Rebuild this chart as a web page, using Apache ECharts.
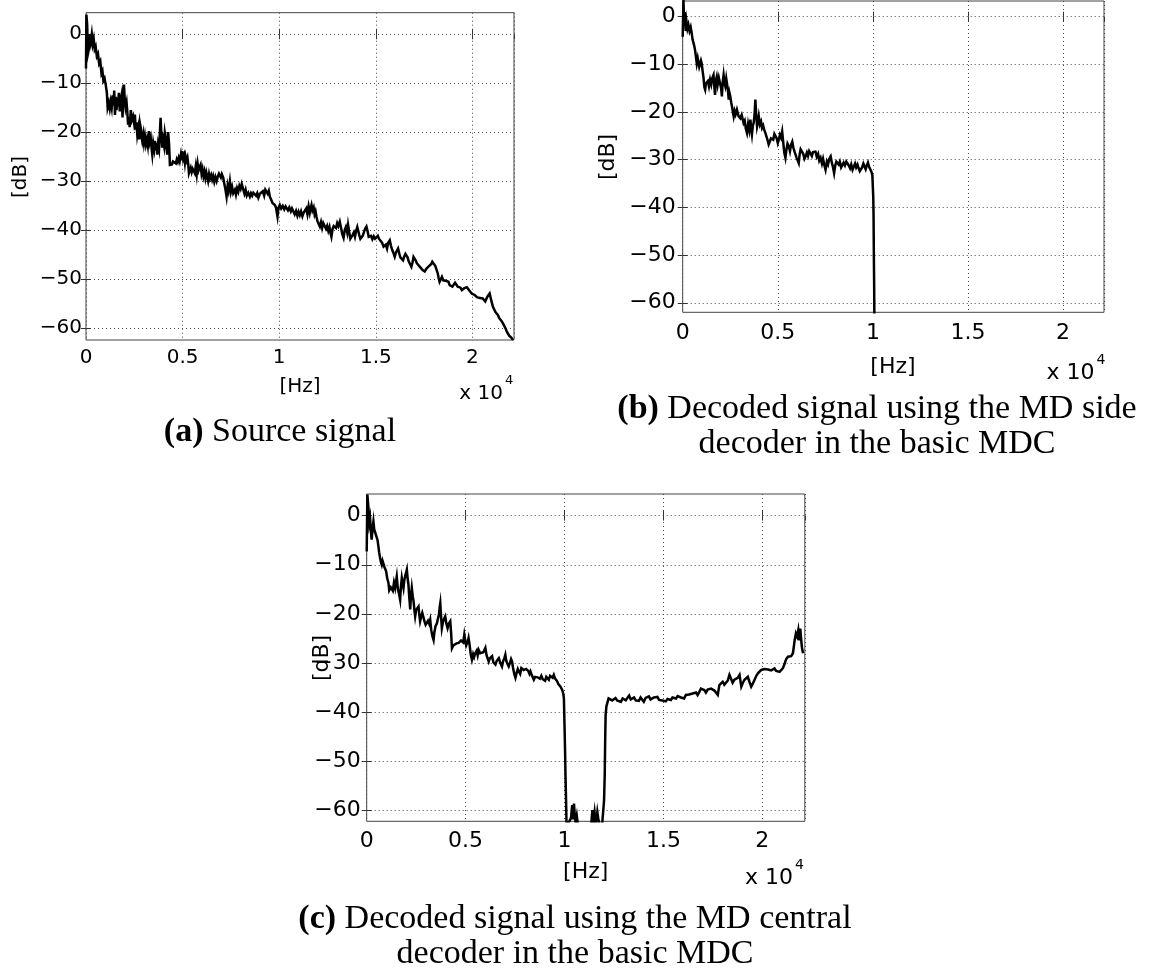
<!DOCTYPE html>
<html><head><meta charset="utf-8">
<script src="https://cdn.jsdelivr.net/npm/echarts@6/dist/echarts.min.js"></script>
<style>html,body{margin:0;padding:0;background:#fff}#c{width:1150px;height:972px}</style>
</head><body><div id="c"></div>
<script>
// ---- data (frequency in Hz, level in dB) ----
const xTicks = [0, 5000, 10000, 15000, 20000];
const xTickLabels = ['0', '0.5', '1', '1.5', '2'];
const yTicks = [-60, -50, -40, -30, -20, -10, 0];
const yTickLabels = ['\u221260', '\u221250', '\u221240', '\u221230', '\u221220', '\u221210', '0'];

const sourceSignal = [[0,-7],[20,4],[60,2],[100,-4],[150,-3],[200,0],[250,-1.5],[300,0],[350,-2],[400,-1],[450,-3],[500,-2.5],[560,-4.5],[620,-4],[680,-6],[740,-5.5],[800,-8],[850,-7.5],[900,-9.5],[960,-9],[1020,-10.3],[1080,-12],[1120,-15],[1180,-14],[1230,-15.2],[1280,-13.8],[1330,-15],[1380,-12.5],[1420,-14.5],[1460,-11.5],[1500,-16.5],[1540,-12.8],[1580,-15.5],[1620,-13],[1660,-14.8],[1700,-12],[1750,-15.8],[1790,-13.6],[1840,-12.5],[1890,-17],[1930,-13],[1964,-10.3],[2000,-13],[2050,-15],[2100,-14],[2140,-16],[2180,-18.5],[2223,-17],[2260,-19],[2320,-15.5],[2380,-17.5],[2440,-16.8],[2482,-18],[2530,-16.4],[2570,-19.5],[2610,-18],[2654,-20.5],[2700,-19.3],[2750,-21.5],[2790,-18.2],[2827,-19],[2870,-20.8],[2910,-21.8],[2960,-20.5],[3000,-22.2],[3050,-20.8],[3100,-22.5],[3150,-21.5],[3200,-22.8],[3257,-19.8],[3300,-22],[3350,-21.2],[3400,-23.6],[3430,-24.6],[3480,-22.3],[3530,-23.5],[3570,-21.8],[3620,-23.8],[3660,-22.2],[3686,-24.6],[3730,-22.5],[3780,-23.5],[3830,-19.5],[3860,-17.1],[3900,-20.5],[3946,-23.2],[3990,-21.6],[4040,-22.8],[4080,-20.2],[4120,-21.2],[4160,-23.2],[4205,-24.6],[4250,-20],[4300,-22.5],[4343,-26.7],[4400,-26.3],[4450,-26.6],[4500,-26],[4550,-26.3],[4600,-25.8],[4650,-26.4],[4700,-25.6],[4750,-26.1],[4800,-25.3],[4850,-26],[4910,-24.6],[4950,-25.8],[4980,-23.9],[5030,-25.5],[5080,-24.8],[5120,-26.2],[5155,-25],[5200,-25.8],[5250,-25.2],[5290,-26.5],[5327,-28.4],[5370,-28],[5420,-27.3],[5470,-28.2],[5520,-27.5],[5585,-27.3],[5630,-28.4],[5680,-27],[5730,-28.6],[5780,-26.5],[5830,-27.8],[5880,-27.2],[5930,-26.7],[5980,-28.5],[6030,-27.6],[6080,-29],[6130,-28.1],[6180,-29.4],[6230,-28.3],[6270,-28.7],[6320,-30],[6370,-28.6],[6420,-29.5],[6480,-28.8],[6530,-29.7],[6580,-29],[6640,-30.2],[6700,-29.2],[6760,-30],[6820,-29.1],[6880,-28.5],[6929,-28.1],[6980,-29.3],[7030,-28.6],[7100,-29.3],[7160,-30.6],[7220,-31.8],[7275,-33.2],[7330,-31],[7380,-32],[7446,-30.1],[7500,-32.2],[7560,-31.2],[7620,-32.5],[7704,-31.8],[7760,-32.8],[7820,-31.5],[7880,-32.2],[7940,-31],[8000,-31.6],[8060,-30.6],[8133,-30.8],[8200,-32.6],[8260,-31.8],[8320,-33],[8400,-32.4],[8480,-33.2],[8540,-32.5],[8600,-33],[8660,-32.4],[8738,-32.2],[8800,-33],[8860,-32.5],[8920,-33.4],[9000,-32.6],[9085,-32.9],[9150,-32.1],[9220,-33],[9280,-31.8],[9340,-31.6],[9400,-32.6],[9460,-32],[9514,-33.2],[9580,-33.8],[9650,-34.5],[9720,-34.2],[9773,-34.9],[9830,-35.4],[9910,-37.3],[9960,-35.5],[10030,-34.9],[10100,-35.6],[10180,-35.1],[10260,-35.8],[10330,-35.2],[10380,-35.3],[10450,-36],[10520,-35.4],[10600,-36.2],[10660,-35.6],[10720,-35.9],[10800,-36.8],[10870,-36.1],[10940,-37.1],[11000,-36.3],[11065,-37],[11130,-36.2],[11200,-37.2],[11260,-36.5],[11323,-36.4],[11400,-35.6],[11460,-36.8],[11520,-35.2],[11580,-36.5],[11620,-35.7],[11670,-34.9],[11720,-36],[11780,-35.4],[11830,-36.8],[11880,-36.2],[11928,-37.3],[11980,-38.2],[12040,-38.8],[12100,-39.3],[12160,-38.4],[12220,-39.6],[12280,-38.6],[12358,-38.3],[12420,-39.8],[12480,-39.2],[12540,-40.2],[12600,-39.4],[12650,-40.6],[12700,-41.4],[12760,-39.8],[12820,-39.2],[12880,-38.8],[12940,-39.6],[13000,-38.6],[13060,-39.2],[13133,-38.3],[13200,-39.6],[13260,-40.8],[13330,-41.6],[13392,-40],[13450,-39.4],[13520,-40.6],[13564,-39],[13620,-40.4],[13680,-41.8],[13738,-42.1],[13800,-41],[13860,-40.5],[13920,-41.4],[13980,-40.2],[14040,-39.4],[14083,-39.7],[14140,-41],[14200,-41.8],[14255,-42.1],[14320,-41.2],[14380,-40.8],[14440,-39.8],[14514,-39.3],[14570,-40.2],[14630,-41.4],[14685,-41.7],[14750,-41.2],[14820,-41.9],[14890,-41.3],[14960,-41.8],[15030,-41.7],[15100,-41.2],[15160,-41.8],[15202,-41.4],[15260,-42],[15320,-42.6],[15400,-43.4],[15460,-43.8],[15520,-43],[15580,-43.8],[15640,-42.6],[15720,-42.1],[15780,-43.2],[15840,-44],[15900,-44.6],[15977,-45.5],[16040,-44.6],[16100,-44.2],[16150,-43.8],[16210,-44.8],[16270,-45.6],[16340,-45.2],[16408,-46.2],[16470,-45.4],[16530,-44.9],[16580,-44.8],[16640,-45.6],[16700,-46.4],[16770,-46.2],[16840,-47.5],[16900,-46.6],[16950,-45.5],[17010,-45.1],[17060,-46.2],[17120,-46.8],[17200,-47],[17270,-47.5],[17340,-47.8],[17420,-48.2],[17480,-48.5],[17530,-48.5],[17600,-48],[17660,-48.3],[17720,-47.5],[17785,-47.5],[17860,-47],[17920,-46.5],[17960,-46.2],[18020,-46.9],[18080,-47.4],[18130,-47.8],[18200,-48.8],[18250,-49.8],[18300,-50.6],[18360,-50.2],[18420,-49.6],[18490,-50.3],[18560,-49.9],[18620,-50.4],[18690,-50.8],[18760,-50.6],[18820,-51.3],[18890,-50.9],[18960,-51.6],[19030,-51.2],[19100,-50.8],[19170,-51],[19240,-51.6],[19310,-51.9],[19380,-51.8],[19450,-52.3],[19510,-52.3],[19580,-51.9],[19650,-51.5],[19710,-51.7],[19770,-51.6],[19840,-52.4],[19900,-52.8],[19960,-53],[20030,-53.4],[20113,-53.3],[20180,-53.6],[20250,-53.8],[20320,-53.4],[20400,-53.9],[20460,-53.7],[20530,-54],[20600,-54.2],[20660,-54.6],[20720,-54.3],[20780,-53.6],[20840,-53.3],[20890,-53],[20950,-54],[21000,-54.8],[21060,-55.7],[21120,-56.2],[21190,-56.8],[21260,-57],[21320,-57.4],[21380,-58],[21440,-58.3],[21500,-58.6],[21580,-59.1],[21650,-59.5],[21720,-60.2],[21780,-60.8],[21840,-61.2],[21900,-61.6],[21960,-61.4],[22010,-62],[22100,-62.5]];

const sideDecoder = [[0,-4.2],[40,3.5],[80,-2],[120,1],[160,-3],[200,-1],[250,-2.5],[300,-1.7],[360,-3],[420,-2.2],[475,-3.5],[520,-4.8],[560,-4.5],[600,-6],[650,-7],[700,-8.5],[740,-9.8],[790,-8.7],[830,-8.5],[870,-10.5],[915,-10.5],[960,-9.2],[1000,-9.8],[1050,-11.5],[1090,-12.6],[1140,-14.8],[1180,-15.3],[1220,-14],[1265,-14.3],[1320,-13.5],[1380,-14.6],[1440,-13.2],[1500,-14.2],[1560,-12.8],[1620,-12.2],[1660,-14.5],[1700,-16.4],[1740,-13.5],[1790,-12.6],[1840,-14.2],[1900,-12.8],[1970,-13.2],[2020,-15],[2060,-16.7],[2100,-13.8],[2150,-12.2],[2200,-14],[2240,-14.6],[2290,-13],[2330,-12.6],[2380,-15.5],[2420,-17.4],[2460,-16],[2500,-16.7],[2550,-18],[2590,-18.8],[2640,-20],[2680,-20.9],[2730,-19.8],[2780,-20.5],[2850,-19.5],[2930,-20.8],[3030,-21.3],[3100,-20.6],[3200,-22.3],[3260,-21.8],[3320,-23.5],[3380,-24.4],[3440,-22.5],[3500,-23.8],[3560,-21.6],[3600,-23.5],[3640,-24.7],[3690,-22.8],[3730,-22.3],[3780,-20.5],[3820,-17.4],[3860,-20.2],[3910,-23],[3960,-22],[4000,-20.9],[4060,-22.6],[4120,-22],[4170,-23.3],[4230,-22.8],[4290,-23.8],[4350,-24.4],[4410,-25.2],[4470,-26],[4520,-26.8],[4580,-26.2],[4640,-25.5],[4700,-25.1],[4760,-25.8],[4820,-24.6],[4880,-24.4],[4940,-25.5],[5000,-26.5],[5050,-25.8],[5110,-24.8],[5170,-25.4],[5230,-24.1],[5290,-26.5],[5340,-28.5],[5400,-29.6],[5450,-28],[5510,-26.6],[5580,-27.2],[5640,-28.2],[5700,-26.8],[5760,-26.2],[5820,-27.5],[5880,-28.3],[5930,-28.6],[5990,-29.6],[6050,-30],[6100,-30.7],[6150,-28.8],[6200,-27.8],[6280,-27.5],[6340,-28.8],[6400,-29.8],[6460,-29.3],[6530,-28.5],[6590,-29.2],[6650,-28.2],[6720,-28.6],[6790,-29.2],[6850,-28.4],[6920,-28.8],[6980,-28.3],[7050,-29.4],[7120,-28.8],[7180,-30.2],[7250,-29.6],[7320,-30.8],[7380,-29.8],[7450,-31.2],[7510,-32.1],[7580,-30.4],[7640,-31],[7710,-29.8],[7780,-29.3],[7840,-30.6],[7900,-31.5],[7960,-32.8],[8020,-31.2],[8080,-30.4],[8130,-30],[8200,-31],[8260,-30.4],[8330,-31.6],[8400,-31.4],[8460,-30.6],[8530,-31.2],[8600,-30.4],[8660,-30],[8730,-31.2],[8800,-31.8],[8860,-31],[8930,-32.1],[9000,-31.4],[9060,-30.8],[9120,-31.6],[9190,-31],[9250,-31.8],[9310,-32.4],[9370,-32.5],[9430,-31.6],[9500,-30.8],[9560,-31.4],[9620,-32],[9680,-31.2],[9740,-30.6],[9800,-31.5],[9860,-31.8],[9920,-32.5],[9970,-33.2],[10000,-33.5],[10020,-38],[10035,-42],[10050,-50],[10065,-56],[10080,-64]];

const centralDecoder = [[0,-7.3],[34,4.3],[90,1.5],[130,-1.5],[170,-0.5],[210,-3],[250,-4.9],[300,-2.5],[340,-1.2],[380,-2.8],[420,-3.2],[470,-2.8],[510,-4.5],[550,-5],[590,-6.2],[630,-7.5],[676,-8.6],[720,-9.5],[760,-10],[800,-9.2],[845,-9],[900,-10.5],[940,-10.8],[980,-11.3],[1040,-12.8],[1100,-13.7],[1140,-15.2],[1180,-15.4],[1220,-14.6],[1270,-14.4],[1320,-15.3],[1380,-13.6],[1440,-14.7],[1480,-13.5],[1520,-12.4],[1560,-14.2],[1600,-15.4],[1640,-16],[1690,-17.1],[1730,-14.5],[1775,-12.7],[1820,-13.8],[1860,-14.7],[1900,-13.2],[1950,-12.2],[2000,-11.5],[2030,-11],[2070,-12.8],[2110,-14],[2150,-16.5],[2200,-19.1],[2240,-16.2],[2280,-14.7],[2330,-16.5],[2370,-17.4],[2410,-19.2],[2450,-20.5],[2500,-19.2],[2560,-18.8],[2620,-18.5],[2660,-20.2],[2700,-21.5],[2750,-20.6],[2810,-19.8],[2870,-19.8],[2930,-21.6],[2980,-22.2],[3040,-22.5],[3100,-21.4],[3160,-22],[3210,-21.2],[3260,-23.2],[3320,-24.5],[3380,-25.3],[3420,-23.8],[3480,-22.5],[3550,-21.9],[3600,-21],[3650,-20.2],[3690,-18.6],[3720,-17.8],[3760,-20.5],[3800,-22.9],[3850,-21.8],[3910,-21],[3970,-20.5],[4030,-22],[4090,-22.9],[4150,-22],[4225,-21.5],[4270,-24],[4310,-27],[4380,-26.4],[4430,-26.8],[4480,-26.6],[4540,-26],[4600,-26.3],[4650,-25.9],[4720,-26.2],[4770,-25.4],[4820,-25.3],[4880,-25.8],[4935,-24.2],[4990,-25.6],[5030,-26.4],[5070,-26.3],[5110,-25.6],[5150,-24.9],[5200,-26.2],[5260,-28.2],[5320,-29.3],[5380,-28.2],[5430,-28.8],[5490,-28],[5560,-27.5],[5610,-28.4],[5660,-27.3],[5740,-28],[5790,-27.6],[5830,-28.3],[5900,-27.8],[5950,-27.4],[6000,-26.9],[6060,-28.4],[6110,-28.8],[6170,-29.7],[6230,-29],[6290,-28.8],[6340,-28.6],[6400,-29.8],[6460,-29.4],[6510,-30.3],[6570,-29.6],[6630,-29.2],[6680,-29],[6750,-29.9],[6800,-30.2],[6840,-30.7],[6900,-29.6],[6960,-29],[7010,-28.3],[7060,-29.6],[7120,-30.2],[7180,-30.7],[7240,-30],[7300,-29.2],[7350,-29.7],[7400,-31],[7460,-32.2],[7520,-33],[7580,-32],[7640,-31.2],[7690,-31.7],[7760,-32.2],[7820,-31],[7880,-30.8],[7940,-31.4],[8000,-31.8],[8060,-31.2],[8110,-31],[8170,-31.6],[8230,-32.2],[8280,-31.7],[8340,-32.4],[8400,-32.8],[8450,-33.4],[8520,-32.8],[8580,-32.4],[8640,-32.9],[8700,-32.7],[8760,-33.2],[8830,-32.6],[8900,-33.3],[8960,-33],[9020,-33.6],[9080,-32.8],[9150,-33.1],[9210,-33.4],[9270,-32.6],[9330,-32.2],[9400,-33],[9460,-32.4],[9520,-33.1],[9580,-33.5],[9630,-33.7],[9690,-34.3],[9740,-34.5],[9800,-34.8],[9850,-35.2],[9890,-35.5],[9940,-36.3],[9970,-37.2],[10005,-43.3],[10030,-48],[10050,-52.8],[10080,-58],[10100,-62.3],[10150,-63],[10250,-63],[10330,-61.5],[10390,-58.9],[10430,-61.8],[10480,-58.6],[10520,-61],[10560,-62.3],[10620,-61],[10680,-63],[10800,-63],[11000,-63],[11200,-63],[11350,-63],[11410,-59.9],[11460,-62.3],[11520,-60.4],[11580,-63],[11660,-60.3],[11720,-62],[11780,-63],[11900,-63],[11970,-63],[12000,-58],[12034,-52.8],[12060,-45],[12080,-40.6],[12120,-38.8],[12160,-38.2],[12230,-37.2],[12330,-36.9],[12410,-37.6],[12500,-37.5],[12580,-37.1],[12660,-37.6],[12750,-37.2],[12850,-37.9],[12940,-37.2],[13020,-36.8],[13100,-37.6],[13180,-37.1],[13270,-36.6],[13350,-37.4],[13430,-37.8],[13520,-37],[13600,-37.6],[13680,-37.2],[13760,-37.7],[13850,-37],[13930,-37.4],[14010,-37.9],[14100,-37.1],[14180,-37.5],[14270,-36.8],[14350,-37.4],[14440,-37.6],[14520,-37],[14610,-37.4],[14700,-36.9],[14780,-37.5],[14870,-37.1],[14950,-37.6],[15040,-37.2],[15120,-37.8],[15210,-37.3],[15300,-37.6],[15380,-37.5],[15460,-37],[15550,-37.4],[15640,-37.2],[15720,-36.7],[15800,-37.1],[15890,-37],[15970,-36.8],[16050,-37.2],[16140,-36.5],[16220,-36.9],[16300,-36.4],[16390,-36.8],[16480,-36.2],[16560,-36.6],[16650,-36],[16730,-36.5],[16800,-36],[16900,-35.2],[16980,-35.6],[17070,-35.5],[17150,-36],[17240,-35.4],[17320,-35.8],[17410,-35.2],[17490,-35.5],[17580,-35.6],[17670,-35.9],[17750,-36.5],[17830,-34.5],[17900,-34.2],[18000,-33.8],[18080,-34.4],[18170,-34.8],[18250,-33.6],[18340,-32.4],[18420,-33.2],[18500,-34],[18590,-33.4],[18680,-33.6],[18760,-33],[18850,-32.4],[18940,-34.8],[19020,-34],[19100,-33.4],[19190,-33],[19270,-32.8],[19350,-33.8],[19440,-34.8],[19520,-34.2],[19610,-33.4],[19700,-32.6],[19780,-32.1],[19860,-31.8],[19950,-31.4],[20030,-31.7],[20120,-31.2],[20200,-31.6],[20290,-31.3],[20370,-31.2],[20450,-31.5],[20540,-31.4],[20620,-31.1],[20700,-31.6],[20790,-31.4],[20880,-31.8],[20960,-32.1],[21050,-31],[21130,-30.1],[21210,-29.2],[21300,-28.7],[21380,-29],[21460,-28.6],[21550,-28],[21600,-26.5],[21640,-25.3],[21700,-24],[21760,-24.6],[21820,-23.3],[21870,-25.4],[21920,-23],[21960,-22.6],[22000,-26.7],[22060,-28]];

// ---- layout ----
const XMAX = 22150;
const TICK_FONT = 'DejaVu Sans';
const CAP_FONT = 'Liberation Serif';
const CAP_SIZE = 34;
const panels = [
  { data: sourceSignal, l: 86, t: 12.7, w: 428, h: 327.3, ymin: -62.5, ymax: 4.4, fs: 20, xm: 8, ym: 4,
    db: [21, 177], hz: [300, 386.5], x10: [503, 394], cap: [[280, 432, '{b|(a)} Source signal']] },
  { data: sideDecoder, l: 682.7, t: 1, w: 421.3, h: 311.3, ymin: -62, ymax: 3.3, fs: 22, xm: 10, ym: 7,
    db: [608, 157], hz: [893, 367], x10: [1094.6, 373],
    cap: [[877, 409, '{b|(b)} Decoded signal using the MD side'], [877, 444, 'decoder in the basic MDC']] },
  { data: centralDecoder, l: 366.7, t: 494, w: 438.1, h: 327.3, ymin: -62.2, ymax: 4.4, fs: 22, xm: 9, ym: 6,
    db: [322, 658], hz: [585.7, 872.5], x10: [793, 878],
    cap: [[575, 919, '{b|(c)} Decoded signal using the MD central'], [575, 954, 'decoder in the basic MDC']] }
];

const grids = [], xAxes = [], yAxes = [], series = [], graphics = [];
const tickStyle = { inside: true, length: 5, lineStyle: { color: '#333', width: 1 } };
const gridLine = { show: true, lineStyle: { color: '#4a4a4a', type: [1, 3], width: 1 } };
const xFmt = v => { const k = xTicks.indexOf(v); return k >= 0 ? xTickLabels[k] : ''; };
const yFmt = v => { const k = yTicks.indexOf(v); return k >= 0 ? yTickLabels[k] : ''; };

panels.forEach((p, i) => {
  grids.push({ left: p.l, top: p.t, width: p.w, height: p.h, show: true, borderColor: '#444', borderWidth: 1,
    backgroundColor: 'transparent', containLabel: false, outerBoundsMode: 'none' });
  xAxes.push({ gridIndex: i, type: 'value', position: 'bottom', min: 0, max: XMAX, interval: 5000,
    axisLine: { show: false }, axisTick: tickStyle,
    axisLabel: { margin: p.xm, fontFamily: TICK_FONT, fontSize: p.fs, color: '#000', formatter: xFmt, showMaxLabel: false },
    splitLine: gridLine });
  xAxes.push({ gridIndex: i, type: 'value', position: 'top', min: 0, max: XMAX, interval: 5000,
    axisLine: { show: false }, axisTick: tickStyle, axisLabel: { show: false }, splitLine: { show: false } });
  yAxes.push({ gridIndex: i, type: 'value', position: 'left', min: p.ymin, max: p.ymax,
    axisLine: { show: false }, axisTick: Object.assign({ customValues: yTicks }, tickStyle),
    axisLabel: { customValues: yTicks, margin: p.ym, fontFamily: TICK_FONT, fontSize: p.fs, color: '#000', formatter: yFmt },
    splitLine: gridLine });
  yAxes.push({ gridIndex: i, type: 'value', position: 'right', min: p.ymin, max: p.ymax,
    axisLine: { show: false }, axisTick: Object.assign({ customValues: yTicks }, tickStyle),
    axisLabel: { show: false, customValues: yTicks }, splitLine: { show: false } });
  series.push({ type: 'line', xAxisIndex: 2 * i, yAxisIndex: 2 * i, data: p.data, showSymbol: false, symbol: 'none',
    lineStyle: { color: '#000', width: 2.5, join: 'miter' }, clip: true, animation: false, silent: true });

  graphics.push({ type: 'text', x: p.db[0], y: p.db[1], rotation: Math.PI / 2,
    style: { text: '[dB]', fontFamily: TICK_FONT, fontSize: p.fs, fill: '#000', align: 'center', verticalAlign: 'middle' } });
  graphics.push({ type: 'text', x: p.hz[0], y: p.hz[1],
    style: { text: '[Hz]', fontFamily: TICK_FONT, fontSize: p.fs, fill: '#000', align: 'center', verticalAlign: 'middle' } });
  graphics.push({ type: 'text', x: p.x10[0], y: p.x10[1],
    style: { text: 'x 10', fontFamily: TICK_FONT, fontSize: p.fs, fill: '#000', align: 'right', verticalAlign: 'middle' } });
  graphics.push({ type: 'text', x: p.x10[0] + 2, y: p.x10[1] - 13,
    style: { text: '4', fontFamily: TICK_FONT, fontSize: Math.round(p.fs * 0.65), fill: '#000', align: 'left', verticalAlign: 'middle' } });
  p.cap.forEach(c => {
    graphics.push({ type: 'text', x: c[0], y: c[1],
      style: { text: c[2], fontFamily: CAP_FONT, fontSize: CAP_SIZE, fill: '#000', align: 'center', verticalAlign: 'middle',
        rich: { b: { fontFamily: CAP_FONT, fontSize: CAP_SIZE, fontWeight: 'bold', fill: '#000' } } } });
  });
});

const chart = echarts.init(document.getElementById('c'), null, { renderer: 'canvas' });
chart.setOption({
  backgroundColor: '#fff',
  animation: false,
  grid: grids, xAxis: xAxes, yAxis: yAxes, series: series, graphic: graphics
});
</script></body></html>
